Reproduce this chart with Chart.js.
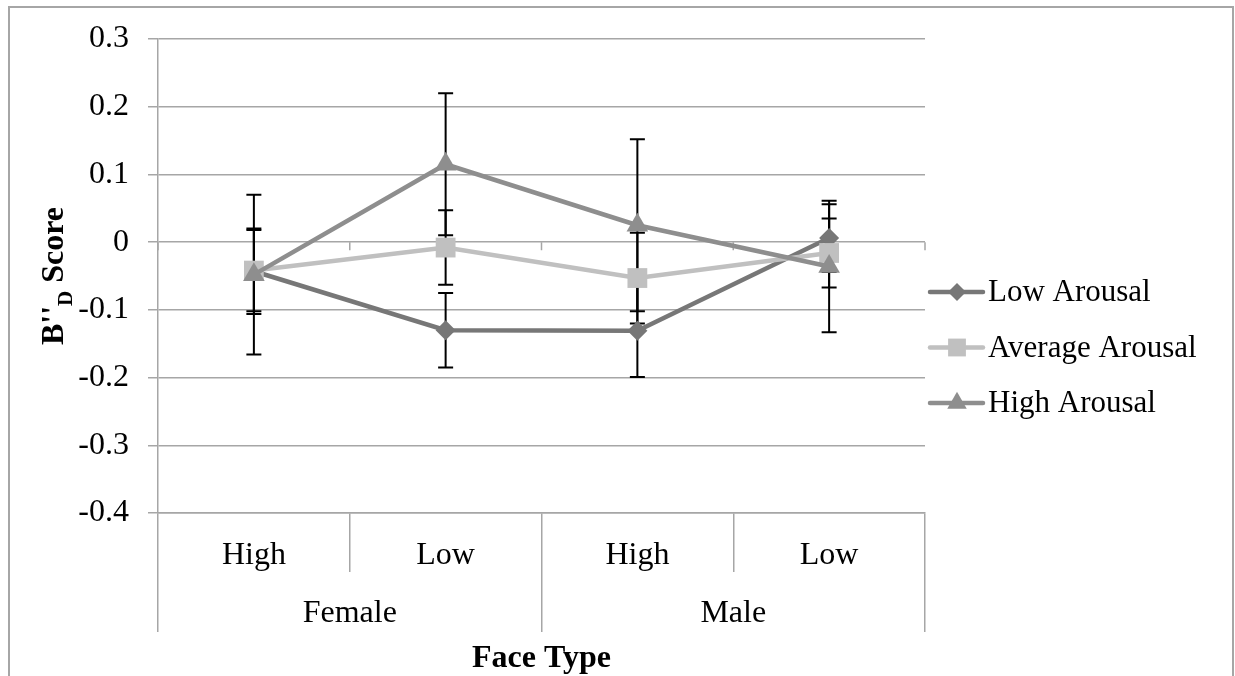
<!DOCTYPE html>
<html>
<head>
<meta charset="utf-8">
<script src="https://cdn.jsdelivr.net/npm/chart.js@4.4.0/dist/chart.umd.min.js"></script>
<style>
  html, body { margin: 0; padding: 0; background: #fff; overflow: hidden; }
  #frame { position: absolute; left: 8px; top: 6px; width: 1222px; height: 720px; border: 2px solid #a6a6a6; }
  #wrap { position: absolute; left: 0; top: 0; width: 1235px; height: 676px; }
</style>
</head>
<body>
<div id="frame"></div>
<div id="wrap"><canvas id="faceChart" width="1235" height="676"></canvas></div>
<script>
// categories
const faceLevels = ["High", "Low", "High", "Low"];
const faceGenders = ["Female", "Male"];

// series (means) and error bar half-widths
const lowArousal = [-0.043, -0.130, -0.131, 0.006];
const lowArousalErr = [0.063, 0.055, 0.068, 0.050];
const averageArousal = [-0.042, -0.008, -0.053, -0.016];
const averageArousalErr = [0.060, 0.055, 0.067, 0.051];
const highArousal = [-0.048, 0.115, 0.025, -0.036];
const highArousalErr = [0.118, 0.105, 0.127, 0.097];

const SERIF = "'Liberation Serif', 'Times New Roman', serif";
const GRID = "#a6a6a6";

// error bars drawn under the lines/markers
const errorBars = {
  id: "errorBars",
  beforeDatasetsDraw(chart) {
    const { ctx } = chart;
    const y = chart.scales.y;
    ctx.save();
    ctx.strokeStyle = "#000";
    ctx.lineWidth = 2;
    chart.data.datasets.forEach(function (ds, i) {
      const meta = chart.getDatasetMeta(i);
      meta.data.forEach(function (pt, j) {
        const v = ds.data[j];
        const e = ds.errors[j];
        const top = y.getPixelForValue(v + e);
        const bot = y.getPixelForValue(v - e);
        ctx.beginPath();
        ctx.moveTo(pt.x, top);
        ctx.lineTo(pt.x, bot);
        ctx.moveTo(pt.x - 7.5, top);
        ctx.lineTo(pt.x + 7.5, top);
        ctx.moveTo(pt.x - 7.5, bot);
        ctx.lineTo(pt.x + 7.5, bot);
        ctx.stroke();
      });
    });
    ctx.restore();
  },
};

// small category tick marks on the zero line
const zeroTicks = {
  id: "zeroTicks",
  beforeDatasetsDraw(chart) {
    const { ctx } = chart;
    const x = chart.scales.x;
    const y0 = chart.scales.y.getPixelForValue(0);
    const step = x.getPixelForValue(1) - x.getPixelForValue(0);
    ctx.save();
    ctx.strokeStyle = GRID;
    ctx.lineWidth = 1.5;
    ctx.beginPath();
    for (let i = 0; i <= faceLevels.length; i++) {
      const px = x.getPixelForValue(0) - step / 2 + i * step;
      ctx.moveTo(px, y0);
      ctx.lineTo(px, y0 + 8);
    }
    ctx.stroke();
    ctx.restore();
  },
};

// y title with subscript D
const yTitle = {
  id: "yTitle",
  afterDraw(chart) {
    const { ctx, chartArea } = chart;
    const big = "bold 32px " + SERIF;
    const small = "bold 21px " + SERIF;
    const parts = [
      { t: "B''", f: big, dy: 0 },
      { t: "D", f: small, dy: 9 },
      { t: " Score", f: big, dy: 0 },
    ];
    ctx.save();
    let total = 0;
    parts.forEach(function (p) {
      ctx.font = p.f;
      p.w = ctx.measureText(p.t).width;
      total += p.w;
    });
    ctx.translate(63, (chartArea.top + chartArea.bottom) / 2);
    ctx.rotate(-Math.PI / 2);
    ctx.fillStyle = "#000";
    ctx.textBaseline = "alphabetic";
    let cx = -total / 2;
    parts.forEach(function (p) {
      ctx.font = p.f;
      ctx.fillText(p.t, cx, p.dy);
      cx += p.w;
    });
    ctx.restore();
  },
};

// legend to the right: line + marker + label
const sideLegend = {
  id: "sideLegend",
  afterDraw(chart) {
    const { ctx, chartArea } = chart;
    const left = chartArea.right + 5;
    const top = chartArea.top + 253;
    ctx.save();
    chart.data.datasets.forEach(function (ds, i) {
      const cy = top + i * 55.5;
      ctx.strokeStyle = ds.borderColor;
      ctx.lineWidth = 4.5;
      ctx.lineCap = "round";
      ctx.beginPath();
      ctx.moveTo(left, cy);
      ctx.lineTo(left + 53, cy);
      ctx.stroke();
      ctx.fillStyle = ds.backgroundColor;
      Chart.helpers.drawPoint(
        ctx,
        { pointStyle: ds.pointStyle, radius: ds.pointRadius * 0.9, rotation: 0, borderWidth: 0 },
        left + 27,
        cy
      );
      ctx.fillStyle = "#000";
      ctx.font = "31px " + SERIF;
      ctx.textBaseline = "middle";
      ctx.fillText(ds.label, left + 58, cy + 1);
    });
    ctx.restore();
  },
};

function makeSeries(label, values, errors, color, style, radius, order) {
  return {
    label: label,
    data: values,
    errors: errors,
    borderColor: color,
    backgroundColor: color,
    pointBackgroundColor: color,
    pointBorderColor: color,
    pointBorderWidth: 0,
    pointStyle: style,
    pointRadius: radius,
    pointHoverRadius: radius,
    borderWidth: 4.5,
    tension: 0,
    order: order,
  };
}

const faceChart = document.getElementById("faceChart");

new Chart(faceChart, {
  type: "line",
  data: {
    labels: faceLevels,
    datasets: [
      makeSeries("Low Arousal", lowArousal, lowArousalErr, "#777777", "rectRot", 10, 2),
      makeSeries("Average Arousal", averageArousal, averageArousalErr, "#c0c0c0", "rect", 14, 1),
      makeSeries("High Arousal", highArousal, highArousalErr, "#8e8e8e", "triangle", 12.5, 0),
    ],
  },
  options: {
    responsive: false,
    animation: false,
    devicePixelRatio: 1,
    layout: {
      padding: { top: 39, right: 310, left: 0, bottom: 0 },
    },
    plugins: {
      legend: { display: false },
      tooltip: { enabled: false },
    },
    scales: {
      x: {
        type: "category",
        position: "bottom",
        offset: true,
        grid: {
          offset: true,
          drawOnChartArea: false,
          tickLength: 59,
          color: GRID,
          lineWidth: 1.5,
        },
        border: { display: true, color: GRID, width: 1.5 },
        ticks: {
          padding: -36,
          autoSkip: false,
          maxRotation: 0,
          color: "#000",
          font: { family: SERIF, size: 32 },
        },
        afterFit: function (scale) {
          scale.height = 59;
        },
      },
      x2: {
        type: "category",
        position: "bottom",
        labels: faceGenders,
        offset: true,
        grid: {
          offset: true,
          drawOnChartArea: false,
          tickLength: 60,
          color: GRID,
          lineWidth: 1.5,
        },
        border: { display: false },
        ticks: {
          padding: -38,
          autoSkip: false,
          maxRotation: 0,
          color: "#000",
          font: { family: SERIF, size: 32 },
        },
        title: {
          display: true,
          text: "Face Type",
          color: "#000",
          font: { family: SERIF, size: 32, weight: "bold" },
          padding: { top: 0, bottom: -2 },
        },
        afterFit: function (scale) {
          scale.height = 104;
        },
      },
      y: {
        min: -0.4,
        max: 0.3,
        grid: { color: GRID, lineWidth: 1.5, tickLength: 10 },
        border: { color: GRID, width: 1.5 },
        ticks: {
          stepSize: 0.1,
          padding: 19,
          color: "#000",
          font: { family: SERIF, size: 32 },
          callback: function (v) {
            return Math.abs(v) < 1e-9 ? "0" : Number(v).toFixed(1);
          },
        },
        afterFit: function (scale) {
          scale.width = 158;
        },
      },
    },
  },
  plugins: [errorBars, zeroTicks, yTitle, sideLegend],
});
</script>
</body>
</html>
